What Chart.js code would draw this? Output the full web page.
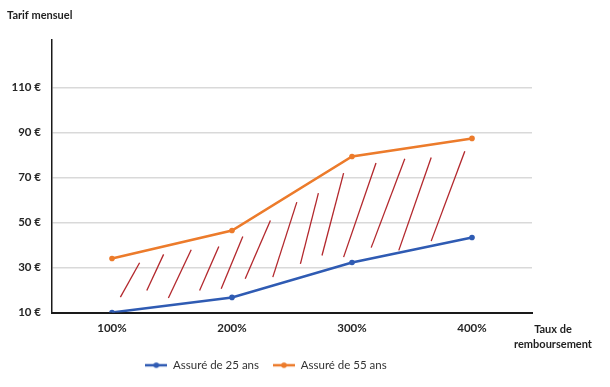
<!DOCTYPE html>
<html>
<head>
<meta charset="utf-8">
<script src="https://cdn.jsdelivr.net/npm/chart.js@4"></script>
<style>
  html, body { margin: 0; padding: 0; background: #fff; }
  #wrap { width: 610px; height: 387px; position: relative; }
</style>
</head>
<body>
<div id="wrap"><canvas id="c" width="610" height="387"></canvas></div>
<script>
// Tarif mensuel selon le taux de remboursement

const categories = ['100%', '200%', '300%', '400%'];
const jeune  = [10, 16.7, 32.2, 43.3];   // Assuré de 25 ans
const senior = [34, 46.4, 79.3, 87.3];   // Assuré de 55 ans
const yTicks = [10, 30, 50, 70, 90, 110];

// traits rouges dessinés à la main (x = index de catégorie, y = €)
const hachures = [
  [[0.07, 16.8], [0.23, 32.1]],
  [[0.29, 19.8], [0.43, 35.8]],
  [[0.47, 16.4], [0.66, 37.9]],
  [[0.73, 19.8], [0.89, 39.3]],
  [[0.91, 20.5], [1.09, 43.8]],
  [[1.11, 25.0], [1.32, 50.9]],
  [[1.34, 25.7], [1.54, 59.0]],
  [[1.57, 31.6], [1.72, 63.0]],
  [[1.75, 35.3], [1.93, 71.9]],
  [[1.93, 34.6], [2.20, 76.4]],
  [[2.16, 38.8], [2.44, 78.3]],
  [[2.39, 37.6], [2.66, 78.8]],
  [[2.66, 41.7], [2.94, 81.6]]
];

const BLUE = '#2f5bb3';
const ORANGE = '#ec7b2b';
const RED = '#b3282d';
const FONT = "Lato, 'Open Sans', sans-serif";

// petit symbole de légende : trait + point
function legendMark(color) {
  const cv = document.createElement('canvas');
  cv.width = 22; cv.height = 8;
  const g = cv.getContext('2d');
  g.strokeStyle = color; g.lineWidth = 2.5;
  g.beginPath(); g.moveTo(0, 4); g.lineTo(22, 4); g.stroke();
  g.fillStyle = color;
  g.beginPath(); g.arc(11, 4, 2.8, 0, Math.PI * 2); g.fill();
  return cv;
}

const datasets = [
  {
    label: 'Assuré de 25 ans', data: jeune,
    borderColor: BLUE, backgroundColor: BLUE, borderWidth: 2.5,
    pointRadius: 2.8, pointBorderWidth: 0, pointHoverRadius: 2.8, tension: 0, order: 0,
    xAxisID: 'x', yAxisID: 'y', mark: legendMark(BLUE)
  },
  {
    label: 'Assuré de 55 ans', data: senior,
    borderColor: ORANGE, backgroundColor: ORANGE, borderWidth: 2.5,
    pointRadius: 2.8, pointBorderWidth: 0, pointHoverRadius: 2.8, tension: 0, order: 0,
    xAxisID: 'x', yAxisID: 'y', mark: legendMark(ORANGE)
  }
];
hachures.forEach(function(h, i) {
  datasets.push({
    label: 'h' + i,
    data: h.map(function(p) { return {x: p[0], y: p[1]}; }),
    borderColor: RED, borderWidth: 1.3, pointRadius: 0,
    xAxisID: 'xs', yAxisID: 'y', order: 1
  });
});

// textes libres : titre d'axe y et titre d'axe x
const texts = {
  id: 'texts',
  afterDraw(chart) {
    const ctx = chart.ctx;
    ctx.save();
    ctx.fillStyle = '#1f1f1f';
    ctx.font = 'bold 11px ' + FONT;
    ctx.textBaseline = 'middle';
    ctx.textAlign = 'left';
    ctx.fillText('Tarif mensuel', 7, 15);
    ctx.textAlign = 'center';
    ctx.fillText('Taux de', 553, 329);
    ctx.fillText('remboursement', 553, 344);
    ctx.restore();
  }
};

new Chart(document.getElementById('c'), {
  type: 'line',
  data: { labels: categories, datasets: datasets },
  plugins: [texts],
  options: {
    responsive: false,
    animation: false,
    layout: { padding: { top: 40, right: 78, bottom: 6, left: 0 } },
    plugins: {
      tooltip: { enabled: false },
      legend: {
        position: 'bottom',
        labels: {
          color: '#333333',
          font: { family: FONT, size: 11.5 },
          usePointStyle: true,
          pointStyleWidth: 22,
          padding: 14,
          filter: function(item) { return item.datasetIndex < 2; },
          generateLabels: function(chart) {
            return chart.data.datasets.slice(0, 2).map(function(ds, i) {
              return {
                text: ds.label, datasetIndex: i, pointStyle: ds.mark,
                fillStyle: ds.borderColor, strokeStyle: ds.borderColor,
                fontColor: '#333333', lineWidth: 0, hidden: false
              };
            });
          }
        }
      }
    },
    scales: {
      x: {
        type: 'category',
        offset: true,
        grid: { display: false, drawTicks: false },
        border: { color: '#1a1a1a', width: 2 },
        ticks: { color: '#262626', padding: 9, font: { family: FONT, size: 11.5, weight: 'bold' } },
        afterFit: function(s) { s.height = 33; }
      },
      xs: {
        type: 'linear', display: false, min: -0.5, max: 3.5
      },
      y: {
        min: 10, max: 131,
        afterBuildTicks: function(s) { s.ticks = yTicks.map(function(v) { return {value: v}; }); },
        grid: {
          drawTicks: false, lineWidth: 1.5,
          color: function(c) { return c.tick && c.tick.value === 10 ? 'rgba(0,0,0,0)' : '#d9d9d9'; }
        },
        border: { color: '#1a1a1a', width: 1.5 },
        ticks: {
          color: '#262626', padding: 11,
          font: { family: FONT, size: 11.5, weight: 'bold' },
          callback: function(v) { return v + ' €'; }
        },
        afterFit: function(s) { s.width = 52; }
      }
    }
  }
});
</script>
</body>
</html>
